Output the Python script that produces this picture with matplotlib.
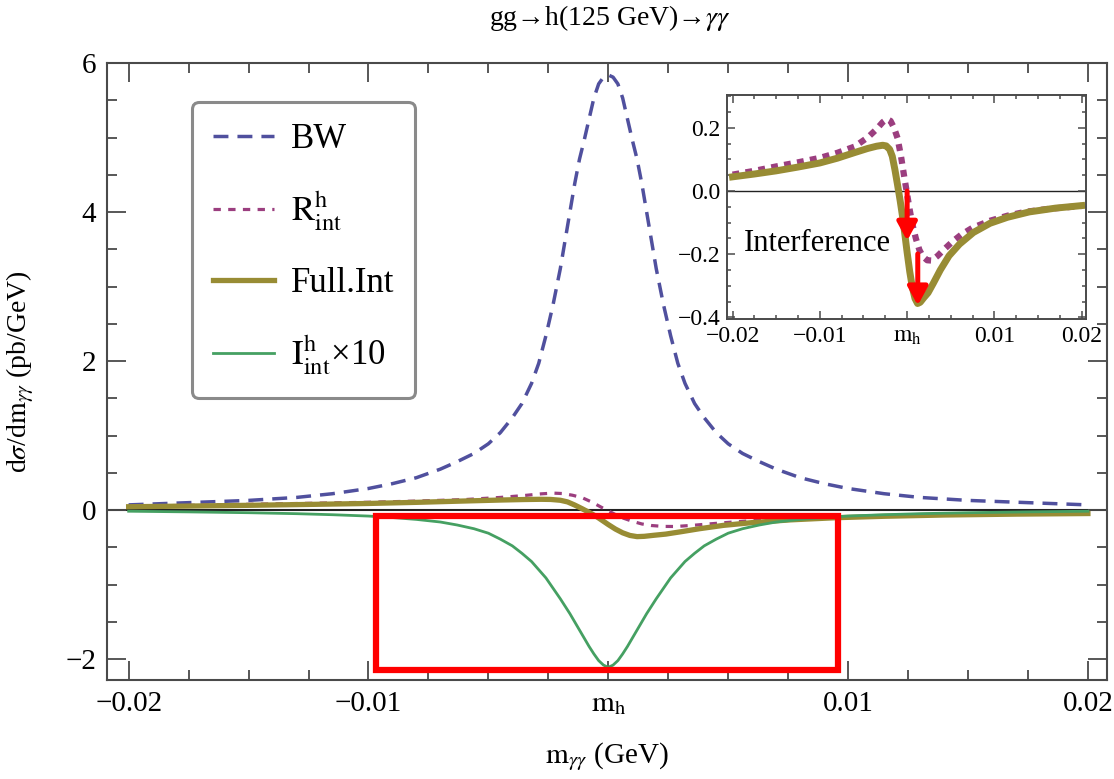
import matplotlib
matplotlib.use("Agg")
import matplotlib.pyplot as plt
from matplotlib.patches import Rectangle
from matplotlib.ticker import MultipleLocator

plt.rcParams["font.family"] = "serif"
plt.rcParams["font.serif"] = ["Liberation Serif"]
plt.rcParams["mathtext.fontset"] = "stix"

# m_gg - m_h (GeV), shared grid for the symmetric curves
x_sym = [-0.0200, -0.0175, -0.0150, -0.0130, -0.0115, -0.0100, -0.0090, -0.0080,
         -0.0070, -0.0063, -0.0056, -0.0050, -0.0045, -0.0040, -0.0036, -0.0032,
         -0.0029, -0.0026, -0.0023, -0.0020, -0.0018, -0.0016, -0.0014, -0.0012,
         -0.0010, -0.0008, -0.0006, -0.0004, -0.0002, 0.0,
         0.0002, 0.0004, 0.0006, 0.0008, 0.0010, 0.0012, 0.0014, 0.0016, 0.0018,
         0.0020, 0.0023, 0.0026, 0.0029, 0.0032, 0.0036, 0.0040, 0.0045, 0.0050,
         0.0056, 0.0063, 0.0070, 0.0080, 0.0090, 0.0100, 0.0115, 0.0130, 0.0150,
         0.0175, 0.0200]
bw = [0.07, 0.10, 0.13, 0.17, 0.22, 0.29, 0.355, 0.435, 0.55, 0.65, 0.76, 0.89, 1.04,
      1.24, 1.43, 1.70, 1.97, 2.34, 2.76, 3.24, 3.62, 4.00, 4.38, 4.71, 4.97, 5.25,
      5.53, 5.72, 5.81, 5.84,
      5.81, 5.72, 5.53, 5.25, 4.97, 4.71, 4.38, 4.00, 3.62, 3.24, 2.76, 2.34, 1.97,
      1.70, 1.43, 1.24, 1.04, 0.89, 0.76, 0.65, 0.55, 0.435, 0.355, 0.29, 0.22, 0.17,
      0.13, 0.10, 0.07]
i_int_x10 = [-0.015, -0.024, -0.035, -0.048, -0.062, -0.08, -0.10, -0.125, -0.16,
             -0.20, -0.25, -0.31, -0.39, -0.48, -0.58, -0.69, -0.80, -0.91, -1.05,
             -1.19, -1.29, -1.39, -1.50, -1.61, -1.72, -1.83, -1.93, -2.02, -2.08,
             -2.11,
             -2.08, -2.02, -1.93, -1.83, -1.72, -1.61, -1.50, -1.39, -1.29, -1.19,
             -1.05, -0.91, -0.80, -0.69, -0.58, -0.48, -0.39, -0.31, -0.25, -0.20,
             -0.16, -0.125, -0.10, -0.08, -0.062, -0.048, -0.035, -0.024, -0.015]

x_full = [-0.020, -0.0175, -0.015, -0.0125, -0.010, -0.008, -0.006, -0.0045, -0.0035,
          -0.0028, -0.0024, -0.0020, -0.0017, -0.0014, -0.0011, -0.0008, -0.0005,
          -0.0002, 0.0, 0.0003, 0.0006, 0.0009, 0.0012, 0.0015, 0.0019, 0.0024,
          0.0030, 0.0038, 0.0048, 0.006, 0.0076, 0.0095, 0.0115, 0.014, 0.017, 0.020]
full_int = [0.045, 0.054, 0.064, 0.076, 0.089, 0.104, 0.122, 0.135, 0.142, 0.145,
            0.143, 0.132, 0.110, 0.068, 0.020, -0.030, -0.085, -0.150, -0.194, -0.255,
            -0.305, -0.340, -0.356, -0.352, -0.338, -0.322, -0.292, -0.250, -0.205,
            -0.168, -0.131, -0.102, -0.083, -0.066, -0.054, -0.046]

x_r = [-0.020, -0.0175, -0.015, -0.0125, -0.010, -0.008, -0.006, -0.0045, -0.0035,
       -0.0028, -0.0023, -0.0019, -0.0015, -0.0011, -0.0007, -0.0003, 0.0, 0.0003,
       0.0006, 0.0010, 0.0014, 0.0018, 0.0023, 0.0028, 0.0035, 0.0043, 0.0052, 0.0062,
       0.0075, 0.0095, 0.0115, 0.0135, 0.016, 0.020]
r_int = [0.052, 0.064, 0.078, 0.091, 0.105, 0.121, 0.141, 0.170, 0.196, 0.218, 0.228,
         0.222, 0.200, 0.168, 0.110, 0.040, -0.010, -0.060, -0.105, -0.150, -0.186,
         -0.207, -0.219, -0.220, -0.205, -0.183, -0.160, -0.138, -0.116, -0.094,
         -0.078, -0.066, -0.057, -0.047]

x_ticks = [-0.02, -0.01, 0.0, 0.01, 0.02]
x_tick_labels = ["\u22120.02", "\u22120.01", r"$\mathrm{m}_{\mathrm{h}}$", "0.01", "0.02"]
y_ticks = [-2, 0, 2, 4, 6]
inset_y_ticks = [-0.4, -0.2, 0.0, 0.2]
inset_y_labels = ["\u22120.4", "\u22120.2", "0.0", "0.2"]

# zoom box on the main panel, and the two shift arrows in the inset (x, y_from, y_to)
zoom_box = (-0.0097, 0.0096, -2.15, -0.085)
arrows = [(0.0, 0.0, -0.157), (0.00122, -0.199, -0.362)]

c_bw = "#50509e"
c_r = "#9b3e7f"
c_full = "#988c34"
c_i = "#45a062"
c_axis = "#4a4a4a"

fig = plt.figure(figsize=(11.14, 7.79), dpi=100)
ax = fig.add_axes([0.0961, 0.1271, 0.8977, 0.792])

ax.axhline(0, color="#222222", lw=1.5, zorder=1)
ax.plot(x_sym, bw, color=c_bw, lw=2.5, ls=(0, (4.3, 2.6)), label="BW")
ax.plot(x_r, r_int, color=c_r, lw=2.3, ls=(0, (2.3, 2.3)),
        label=r"$\mathrm{R}^{\mathrm{h}}_{\mathrm{int}}$")
ax.plot(x_full, full_int, color=c_full, lw=3.8, label="Full.Int")
ax.plot(x_sym, i_int_x10, color=c_i, lw=2.0,
        label=r"$\mathrm{I}^{\mathrm{h}}_{\mathrm{int}}$" + "\u00d710")

x0, x1, y0, y1 = zoom_box
ax.add_patch(Rectangle((x0, y0), x1 - x0, y1 - y0, fill=False, ec="red", lw=4.5,
                       joinstyle="miter", zorder=5))

ax.set_xlim(-0.0209, 0.0208)
ax.set_ylim(-2.28, 6.0)
ax.set_xticks(x_ticks, labels=x_tick_labels)
ax.set_yticks(y_ticks)
ax.xaxis.set_minor_locator(MultipleLocator(0.0025))
ax.yaxis.set_minor_locator(MultipleLocator(0.5))
ax.tick_params(which="both", direction="in", top=True, right=True, color=c_axis,
               width=1.3, labelsize=21, pad=8)
ax.tick_params(which="major", length=14)
ax.tick_params(which="minor", length=7)
for spine in ax.spines.values():
    spine.set_color(c_axis)
    spine.set_linewidth(1.5)

ax.set_xlabel(r"$\mathrm{m}_{\gamma\gamma}$ (GeV)", fontsize=21, va="center")
ax.xaxis.set_label_coords(0.5, -0.125)
ax.set_ylabel(r"d$\sigma$/d$\mathrm{m}_{\gamma\gamma}$ (pb/GeV)", fontsize=20, va="center")
ax.yaxis.set_label_coords(-0.087, 0.5)
fig.text(0.548, 0.977, "gg\u2192h(125 GeV)\u2192" + r"$\gamma\gamma$", fontsize=20,
         ha="center", va="center", family=["Liberation Serif", "DejaVu Serif"])

leg = ax.legend(loc="upper left", bbox_to_anchor=(0.085, 0.937), borderaxespad=0,
                fontsize=25, handlelength=1.75, handletextpad=0.5, labelspacing=0.98,
                borderpad=0.6, fancybox=True, edgecolor="#8a8a8a", framealpha=1)
leg.get_frame().set_linewidth(2.2)

# inset: the interference part on its own
ax_in = fig.add_axes([0.6529, 0.5901, 0.3220, 0.2879])
ax_in.axhline(0, color="#222222", lw=1.0, zorder=1)
ax_in.plot(x_r, r_int, color=c_r, lw=4.5, ls=(0, (1.1, 1.0)))
ax_in.plot(x_full, full_int, color=c_full, lw=5.0)
for ax_x, y_from, y_to in arrows:
    ax_in.annotate("", xy=(ax_x, y_to), xytext=(ax_x, y_from),
                   arrowprops=dict(arrowstyle="-|>,head_length=1.1,head_width=0.6",
                                   color="red", lw=3.6, shrinkA=0, shrinkB=0),
                   zorder=6)
ax_in.text(-0.0187, -0.165, "Interference", fontsize=22, ha="left", va="center")

ax_in.set_xlim(-0.0206, 0.0205)
ax_in.set_ylim(-0.406, 0.304)
ax_in.set_xticks(x_ticks, labels=x_tick_labels)
ax_in.set_yticks(inset_y_ticks, labels=inset_y_labels)
ax_in.xaxis.set_minor_locator(MultipleLocator(0.0025))
ax_in.yaxis.set_minor_locator(MultipleLocator(0.05))
ax_in.tick_params(which="both", direction="in", top=True, right=True, color=c_axis,
                  width=1.1, labelsize=17, pad=5)
ax_in.tick_params(which="major", length=6)
ax_in.tick_params(which="minor", length=3)
for spine in ax_in.spines.values():
    spine.set_color(c_axis)
    spine.set_linewidth(1.4)

fig.savefig("out.png", dpi=100)
